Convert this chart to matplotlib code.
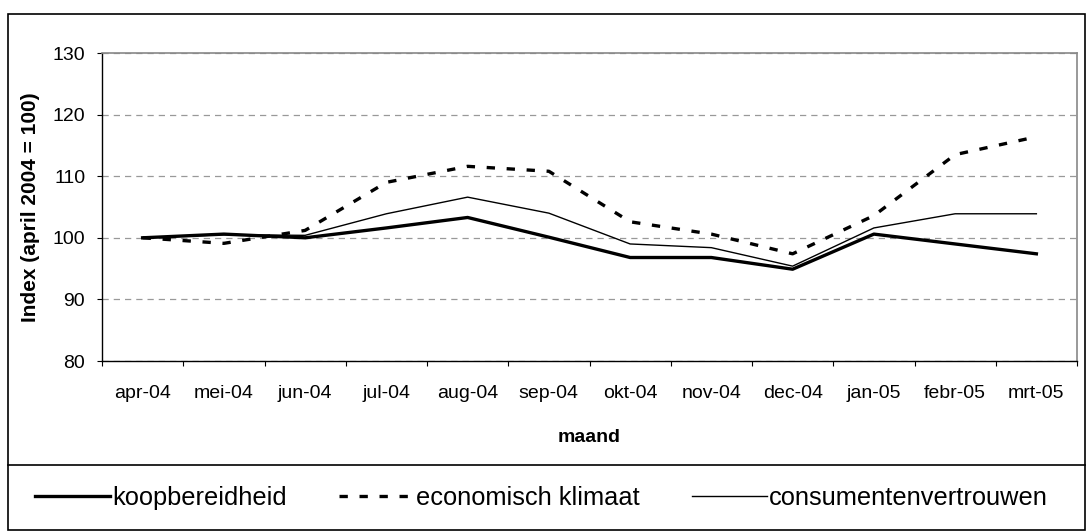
import matplotlib.pyplot as plt
from matplotlib.patches import Rectangle
from matplotlib.lines import Line2D

plt.rcParams['font.family'] = ['Liberation Sans', 'DejaVu Sans']

maanden = ['apr-04', 'mei-04', 'jun-04', 'jul-04', 'aug-04', 'sep-04',
           'okt-04', 'nov-04', 'dec-04', 'jan-05', 'febr-05', 'mrt-05']
koopbereidheid = [100.0, 100.6, 100.0, 101.6, 103.3, 100.1, 96.8, 96.8, 94.9, 100.6, 99.0, 97.4]
economisch_klimaat = [100.0, 99.1, 101.2, 109.0, 111.6, 110.8, 102.6, 100.6, 97.4, 103.6, 113.5, 116.4]
consumentenvertrouwen = [100.0, 100.5, 100.4, 103.9, 106.6, 104.0, 99.0, 98.4, 95.4, 101.6, 103.9, 103.9]

fig = plt.figure(figsize=(10.87, 5.32), dpi=100)
W, H = 1087, 532

# buitenkader en legendakader
fig.patches.append(Rectangle((8 / W, 2 / H), 1077 / W, 516 / H, transform=fig.transFigure,
                             fill=False, edgecolor='black', linewidth=1.2))
fig.add_artist(Line2D([8 / W, 1085 / W], [1 - 465 / H, 1 - 465 / H],
                      transform=fig.transFigure, color='black', linewidth=1.2))

ax = fig.add_axes([102 / W, 1 - 361 / H, (1077 - 102) / W, (361 - 53) / H])
x = range(len(maanden))

ax.plot(x, koopbereidheid, color='black', linewidth=2.4, label='koopbereidheid')
ax.plot(x, economisch_klimaat, color='black', linewidth=2.4, linestyle=(0, (2.5, 3.5)),
        label='economisch klimaat')
ax.plot(x, consumentenvertrouwen, color='black', linewidth=1.0, label='consumentenvertrouwen')

ax.set_xlim(-0.5, len(maanden) - 0.5)
ax.set_ylim(80, 130)
ax.set_yticks(range(80, 131, 10))
ax.set_xticks([i - 0.5 for i in range(len(maanden) + 1)], minor=False)
ax.set_xticklabels([])
ax.set_xticks(list(x), minor=True)
ax.set_xticklabels(maanden, minor=True, fontsize=14)
ax.tick_params(axis='x', which='minor', length=0, pad=17.5)
ax.tick_params(axis='x', which='major', length=3.6, direction='out', color='black')
ax.tick_params(axis='y', length=3.6, direction='out', labelsize=14, pad=8.5)

ax.yaxis.grid(True, linestyle=(0, (5, 4)), color='#999999', linewidth=0.9)
ax.set_axisbelow(True)
for s in ['top', 'right']:
    ax.spines[s].set_color('#888888')
    ax.spines[s].set_linewidth(1.2)
for s in ['left', 'bottom']:
    ax.spines[s].set_color('black')
    ax.spines[s].set_linewidth(1.0)

ax.set_ylabel('Index (april 2004 = 100)', fontsize=15, fontweight='bold', labelpad=9)
ax.set_xlabel('maand', fontsize=14, fontweight='bold', labelpad=19)

handles, labels = ax.get_legend_handles_labels()
fig.legend(handles, labels, loc='center left', bbox_to_anchor=(35 / W, 1 - 498 / H), ncol=3,
           frameon=False, fontsize=18.3, handlelength=2.95, handletextpad=0.08,
           columnspacing=2.05, borderpad=0, borderaxespad=0)

fig.savefig('out.png', dpi=100)
